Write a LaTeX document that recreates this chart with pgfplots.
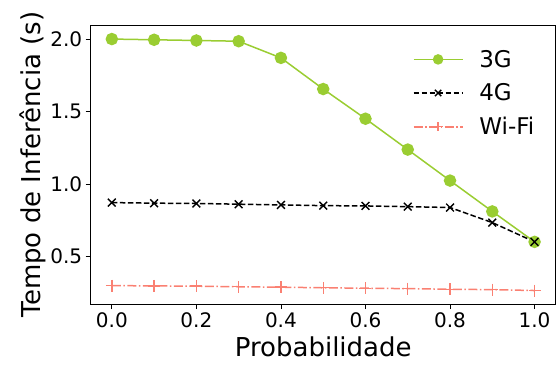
\documentclass[border=0pt]{standalone}
\usepackage{pgfplots}
\pgfplotsset{compat=1.18}
\usepackage{fontspec}
\setmainfont{DejaVu Sans}
\definecolor{c3g}{HTML}{9ACD32}
\definecolor{cwifi}{HTML}{FA8072}
\begin{document}
\begin{tikzpicture}
\begin{axis}[
  at={(0pt,0pt)}, anchor=south west,
  scale only axis,
  width=465pt, height=279pt,
  xmin=-0.05, xmax=1.05,
  ymin=0.171, ymax=2.097,
  xtick={0,0.2,0.4,0.6,0.8,1.0},
  ytick={0.5,1.0,1.5,2.0},
  /pgf/number format/assume math mode=true,
  /pgf/number format/fixed,
  /pgf/number format/fixed zerofill,
  /pgf/number format/precision=1,
  tick label style={font=\fontsize{20}{24}\selectfont},
  tick align=outside,
  tick pos=left,
  major tick length=5pt,
  axis line style={line width=0.8pt},
  every tick/.style={line width=0.8pt, black},
  xlabel={Probabilidade},
  ylabel={Tempo de Inferência (s)},
  label style={font=\fontsize{26}{30}\selectfont},
  xlabel style={yshift=-2pt},
  ylabel style={yshift=-2pt},
  legend style={draw=none, fill=none, at={(0.965,0.925)}, anchor=north east,
    font=\fontsize{23}{27}\selectfont, row sep=11pt,
    /tikz/every odd column/.append style={column sep=14pt}},
  legend cell align=left,
  legend image code/.code={
    \draw[mark repeat=2,mark phase=2, mark size=4.5pt] plot coordinates {(0pt,0pt) (24.5pt,0pt) (49pt,0pt)};
  },
]
\addplot[c3g, line width=1.5pt, mark=*, mark size=5.5pt, mark options={solid, fill=c3g, draw=c3g}]
coordinates {(0.0,2.0) (0.1,1.995) (0.2,1.99) (0.3,1.985) (0.4,1.87) (0.5,1.655) (0.6,1.45) (0.7,1.237) (0.8,1.023) (0.9,0.81) (1.0,0.60)};
\addlegendentry{3G}
\addplot[black, line width=1.5pt, dash pattern=on 5.5pt off 2.5pt, mark=x, mark size=5.5pt, mark options={solid, line width=1.4pt}]
coordinates {(0.0,0.871) (0.1,0.867) (0.2,0.865) (0.3,0.860) (0.4,0.855) (0.5,0.850) (0.6,0.848) (0.7,0.843) (0.8,0.837) (0.9,0.733) (1.0,0.60)};
\addlegendentry{4G}
\addplot[cwifi, line width=1.5pt, dash pattern=on 9pt off 2.5pt on 1.5pt off 2.5pt, mark=+, mark size=6pt, mark options={solid, line width=1.4pt}]
coordinates {(0.0,0.298) (0.1,0.296) (0.2,0.294) (0.3,0.290) (0.4,0.287) (0.5,0.283) (0.6,0.280) (0.7,0.277) (0.8,0.273) (0.9,0.270) (1.0,0.264)};
\addlegendentry{Wi-Fi}
\end{axis}
\pgfresetboundingbox
\useasboundingbox (-90.7pt,-63pt) rectangle (466.3pt,304pt);
\end{tikzpicture}
\end{document}
